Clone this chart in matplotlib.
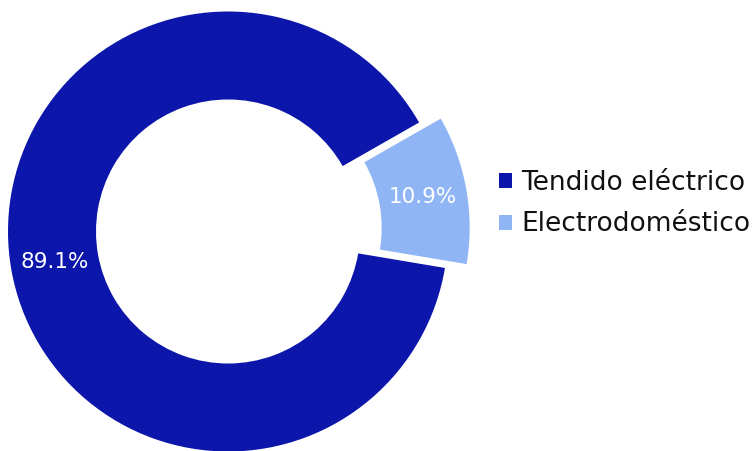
import matplotlib
matplotlib.use("Agg")
import matplotlib.pyplot as plt
from matplotlib.patches import Patch

categories = ["Tendido eléctrico", "Electrodoméstico"]
values = [89.1, 10.9]
colors = ["#0c16ab", "#8fb5f4"]

W, H = 754, 451
fig = plt.figure(figsize=(W / 100, H / 100), dpi=100)
ax = fig.add_axes([0, 0, 1, 1])

R_px = 220.0
cx, cy = 228.0, 231.5  # pixel centre (from top)

wedges, texts, autotexts = ax.pie(
    values,
    colors=colors,
    startangle=29.7,
    counterclock=True,
    explode=[0, 0.1],
    radius=1.0,
    wedgeprops=dict(width=0.4, linewidth=0),
    autopct=lambda p: f"{p:.1f}%",
    pctdistance=0.8,
    textprops=dict(color="white", fontsize=15.5, family="DejaVu Sans"),
)

ax.set_xlim(-cx / R_px, (W - cx) / R_px)
ax.set_ylim(-(H - cy) / R_px, cy / R_px)
ax.set_aspect("auto")
ax.axis("off")

fs = 19
handles = [Patch(facecolor=c, edgecolor="none") for c in colors]
leg = fig.legend(
    handles, categories,
    loc="center left",
    bbox_to_anchor=(499 / W, 1 - 203.5 / H),
    frameon=False,
    handlelength=0.5,
    handleheight=0.5,
    handletextpad=0.35,
    labelspacing=0.6,
    borderaxespad=0,
    borderpad=0,
    prop=dict(family="DejaVu Sans", size=fs),
)
for t in leg.get_texts():
    t.set_color("#111111")

fig.savefig("out.png", dpi=100, facecolor="white")
